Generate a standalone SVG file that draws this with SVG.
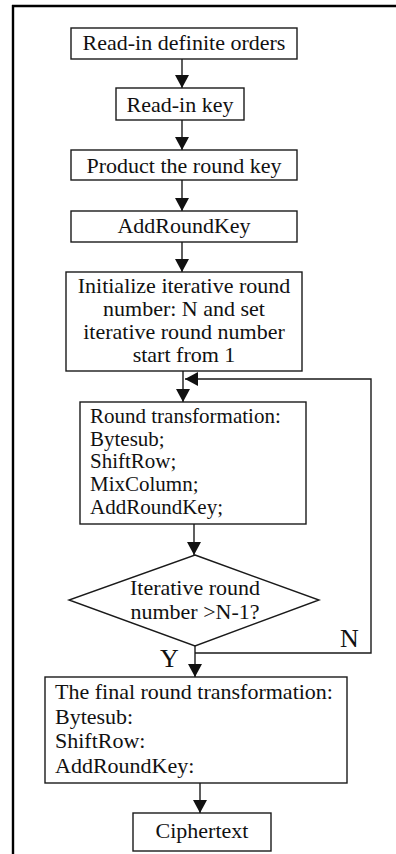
<svg xmlns="http://www.w3.org/2000/svg" width="396" height="854" viewBox="0 0 396 854">
<style>
.box{fill:#fff;stroke:#1a1a1a;stroke-width:1.4}
.t{font-family:"Liberation Serif","Times New Roman",serif;font-size:22px;fill:#111}
.s{font-size:21px}
.c{text-anchor:middle}
.con{fill:none;stroke:#1a1a1a;stroke-width:1.4}
.lbl{font-family:"Liberation Serif","Times New Roman",serif;font-size:26px;fill:#111}
</style>
<defs>
<marker id="ah" markerUnits="userSpaceOnUse" markerWidth="14" markerHeight="14" refX="13" refY="7" orient="auto">
<path d="M0,0 L13,7 L0,14 z" fill="#111"/>
</marker>
</defs>
<rect width="396" height="854" fill="#fff"/>
<g id="frame">
<line x1="13" y1="5" x2="13" y2="854" stroke="#000" stroke-width="2.4"/>
<line x1="12" y1="6" x2="396" y2="6" stroke="#000" stroke-width="2.4"/>
</g>
<g id="connectors">
<line class="con" x1="182" y1="59" x2="182" y2="88" marker-end="url(#ah)"/>
<line class="con" x1="182" y1="120" x2="182" y2="150" marker-end="url(#ah)"/>
<line class="con" x1="182" y1="180" x2="182" y2="211" marker-end="url(#ah)"/>
<line class="con" x1="182" y1="242" x2="182" y2="272" marker-end="url(#ah)"/>
<line class="con" x1="183" y1="371" x2="183" y2="402" marker-end="url(#ah)"/>
<line class="con" x1="194" y1="524" x2="194" y2="555" marker-end="url(#ah)"/>
<line class="con" x1="195" y1="646" x2="195" y2="677" marker-end="url(#ah)"/>
<path class="con" d="M195,653 H371 V379 H185" marker-end="url(#ah)"/>
<line class="con" x1="200" y1="783" x2="200" y2="813" marker-end="url(#ah)"/>
</g>
<g id="n1"><rect class="box" x="71" y="28" width="226" height="31"/><text class="t c" x="184" y="50">Read-in definite orders</text></g>
<g id="n2"><rect class="box" x="116" y="88" width="128" height="32"/><text class="t c" x="180" y="112">Read-in key</text></g>
<g id="n3"><rect class="box" x="71" y="150" width="226" height="30"/><text class="t c" x="184" y="173">Product the round key</text></g>
<g id="n4"><rect class="box" x="71" y="211" width="226" height="31"/><text class="t c" x="184" y="233">AddRoundKey</text></g>
<g id="n5"><rect class="box" x="66" y="272" width="236" height="99"/>
<text class="t c" x="184" y="293">Initialize iterative round</text>
<text class="t c" x="184" y="316">number: N and set</text>
<text class="t c" x="184" y="339">iterative round number</text>
<text class="t c" x="184" y="362">start from 1</text></g>
<g id="n6"><rect class="box" x="80" y="402" width="226" height="122"/>
<text class="t s" x="90" y="423">Round transformation:</text>
<text class="t s" x="90" y="446">Bytesub;</text>
<text class="t s" x="90" y="468">ShiftRow;</text>
<text class="t s" x="90" y="491">MixColumn;</text>
<text class="t s" x="90" y="514">AddRoundKey;</text></g>
<g id="n7"><polygon class="box" points="195,555 319,600 195,646 69,600"/>
<text class="t c" x="195" y="595">Iterative round</text>
<text class="t c" x="195" y="619">number &gt;N-1?</text></g>
<g id="labels">
<text class="lbl" x="340" y="647">N</text>
<text class="lbl" x="160" y="667">Y</text>
</g>
<g id="n8"><rect class="box" x="45" y="677" width="302" height="106"/>
<text class="t" x="55" y="699">The final round transformation:</text>
<text class="t" x="55" y="724">Bytesub:</text>
<text class="t" x="55" y="748">ShiftRow:</text>
<text class="t" x="55" y="773">AddRoundKey:</text></g>
<g id="n9"><rect class="box" x="133" y="813" width="138" height="38"/><text class="t c" x="202" y="838">Ciphertext</text></g>
</svg>
